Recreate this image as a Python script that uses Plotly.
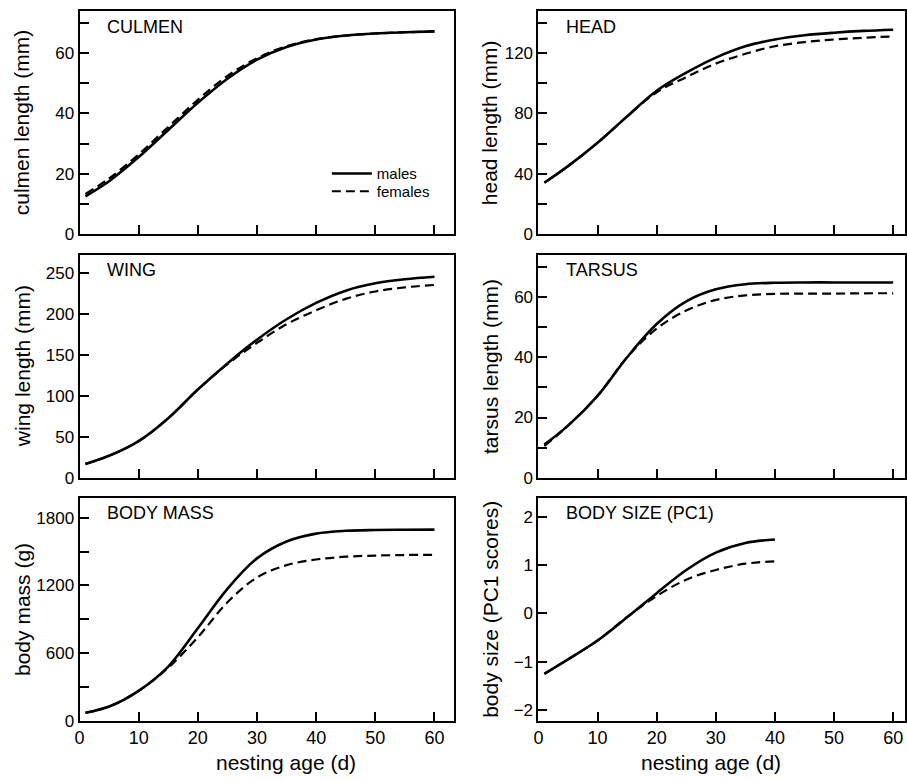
import plotly.graph_objects as go

# ---------------- data ----------------
ages = [1, 5, 10, 15, 20, 25, 30, 35, 40, 45, 50, 55, 60]
ages_pc = [1, 5, 10, 15, 20, 25, 30, 35, 40]

culmen_m = [12.5, 17.5, 25.5, 34.5, 43.5, 51.5, 57.8, 62.0, 64.5, 65.8, 66.5, 66.9, 67.2]
culmen_f = [13.3, 18.4, 26.4, 35.5, 44.5, 52.4, 58.3, 62.3, 64.6, 65.8, 66.5, 66.9, 67.2]

head_m = [34, 45, 60.5, 78, 95, 107, 117, 124.5, 129, 131.8, 133.5, 134.7, 135.5]
head_f = [34, 45, 60.5, 78, 94, 104, 113, 119.5, 124.5, 127.3, 129, 130.2, 131]

wing_m = [17, 27, 45, 73, 108, 140, 169, 194, 214, 229, 238, 243, 246]
wing_f = [17, 27, 45, 73, 108, 139, 165, 188, 205, 219, 228, 233, 236]

tarsus_m = [11, 17.3, 27.2, 40, 51, 58.5, 62.5, 64.2, 64.7, 64.8, 64.8, 64.8, 64.8]
tarsus_f = [10.5, 17.3, 27.2, 40, 49.5, 55.5, 59, 60.5, 61, 61.1, 61.1, 61.2, 61.2]

mass_m = [70, 125, 265, 480, 820, 1170, 1440, 1590, 1660, 1685, 1692, 1694, 1695]
mass_f = [70, 125, 265, 470, 740, 1050, 1270, 1380, 1430, 1455, 1465, 1470, 1472]

pc1_m = [-1.25, -0.95, -0.56, -0.08, 0.42, 0.90, 1.26, 1.46, 1.53]
pc1_f = [-1.25, -0.95, -0.56, -0.07, 0.36, 0.70, 0.90, 1.03, 1.08]

panel_titles = ["CULMEN", "HEAD", "WING", "TARSUS", "BODY MASS", "BODY SIZE (PC1)"]
y_titles = ["culmen length (mm)", "head length (mm)", "wing length (mm)",
            "tarsus length (mm)", "body mass (g)", "body size (PC1 scores)"]
x_title = "nesting age (d)"
x_ticks = [0, 10, 20, 30, 40, 50, 60]

# ---------------- layout helpers ----------------
W, H = 907, 781
FONT = "Liberation Sans, Arial, Helvetica, sans-serif"

def px_x(p):
    return p / W

def px_y(p):
    return 1 - p / H

col_dom = [(75, 452), (537, 906)]
row_dom = [(11, 237), (258, 484), (504, 730)]
x_ranges = [[0, 63.3], [0, 62.0]]

panels = [
    (ages, culmen_m, culmen_f, [0, 74], [0, 20, 40, 60], 10),
    (ages, head_m, head_f, [0, 148], [0, 40, 80, 120], 20),
    (ages, wing_m, wing_f, [0, 273], [0, 50, 100, 150, 200, 250], None),
    (ages, tarsus_m, tarsus_f, [0, 74], [0, 20, 40, 60], 10),
    (ages, mass_m, mass_f, [0, 1980], [0, 600, 1200, 1800], 300),
    (ages_pc, pc1_m, pc1_f, [-2.22, 2.4], [-2, -1, 0, 1, 2], None),
]

fig = go.Figure()
layout = {}
annotations = []

for i, (xs, ym, yf, yr, yt, minor_d) in enumerate(panels):
    r, c = divmod(i, 2)
    n = i + 1
    xa = "x" if n == 1 else f"x{n}"
    ya = "y" if n == 1 else f"y{n}"
    xkey = "xaxis" if n == 1 else f"xaxis{n}"
    ykey = "yaxis" if n == 1 else f"yaxis{n}"
    bottom = (r == 2)

    fig.add_trace(go.Scatter(
        x=xs, y=ym, xaxis=xa, yaxis=ya, mode="lines", name="males",
        line=dict(color="black", width=2.6, shape="spline", smoothing=1.0),
        showlegend=(i == 0), legend="legend"))
    fig.add_trace(go.Scatter(
        x=xs, y=yf, xaxis=xa, yaxis=ya, mode="lines", name="females",
        line=dict(color="black", width=2.2, dash="9px,5px", shape="spline", smoothing=1.0),
        showlegend=(i == 0), legend="legend2"))

    d0, d1 = col_dom[c]
    t0, t1 = row_dom[r]
    layout[xkey] = dict(
        domain=[px_x(d0), px_x(d1)], range=x_ranges[c], anchor=ya,
        tickmode="array", tickvals=x_ticks, ticks="inside", ticklen=9, tickwidth=1.5,
        tickcolor="black", showticklabels=bottom,
        tickfont=dict(family=FONT, size=18, color="black"),
        showline=True, linecolor="black", linewidth=2, mirror=True,
        showgrid=False, zeroline=False, fixedrange=True)
    ydict = dict(
        domain=[px_y(t1), px_y(t0)], range=yr, anchor=xa,
        tickmode="array", tickvals=yt, ticks="inside", ticklen=9, tickwidth=1.5,
        tickcolor="black",
        tickfont=dict(family=FONT, size=17, color="black"),
        showline=True, linecolor="black", linewidth=2, mirror=True,
        showgrid=False, zeroline=False, fixedrange=True)
    if minor_d:
        ydict["minor"] = dict(dtick=minor_d, tick0=0, ticks="inside", ticklen=9,
                              tickwidth=1.5, tickcolor="black", showgrid=False)
    layout[ykey] = ydict

    annotations.append(dict(
        text=panel_titles[i], xref="paper", yref="paper",
        x=px_x(d0 + 26), y=px_y(t0 + 16),
        xanchor="left", yanchor="middle", showarrow=False,
        font=dict(family=FONT, size=18, color="black")))
    annotations.append(dict(
        text=y_titles[i], xref="paper", yref="paper",
        x=px_x(17 if c == 0 else 488), y=px_y((t0 + t1) / 2),
        xanchor="center", yanchor="middle", textangle=-90, showarrow=False,
        font=dict(family=FONT, size=21, color="black")))
    if bottom:
        annotations.append(dict(
            text=x_title, xref="paper", yref="paper",
            x=px_x(283 if c == 0 else 711), y=px_y(772),
            xanchor="center", yanchor="middle", showarrow=False,
            font=dict(family=FONT, size=21, color="black")))

legend_common = dict(xanchor="left", yanchor="middle", bgcolor="rgba(0,0,0,0)",
                     font=dict(family=FONT, size=15, color="black"), itemwidth=40)

fig.update_layout(
    width=W, height=H,
    margin=dict(l=0, r=0, t=0, b=0),
    paper_bgcolor="white", plot_bgcolor="white",
    font=dict(family=FONT, color="black"),
    annotations=annotations,
    legend=dict(x=px_x(324), y=px_y(176), **legend_common),
    legend2=dict(x=px_x(324), y=px_y(194), **legend_common),
    **layout)

fig.write_html("out.html", config={"displayModeBar": False},
               post_script="document.body.style.margin='0';document.body.style.overflow='hidden';")
